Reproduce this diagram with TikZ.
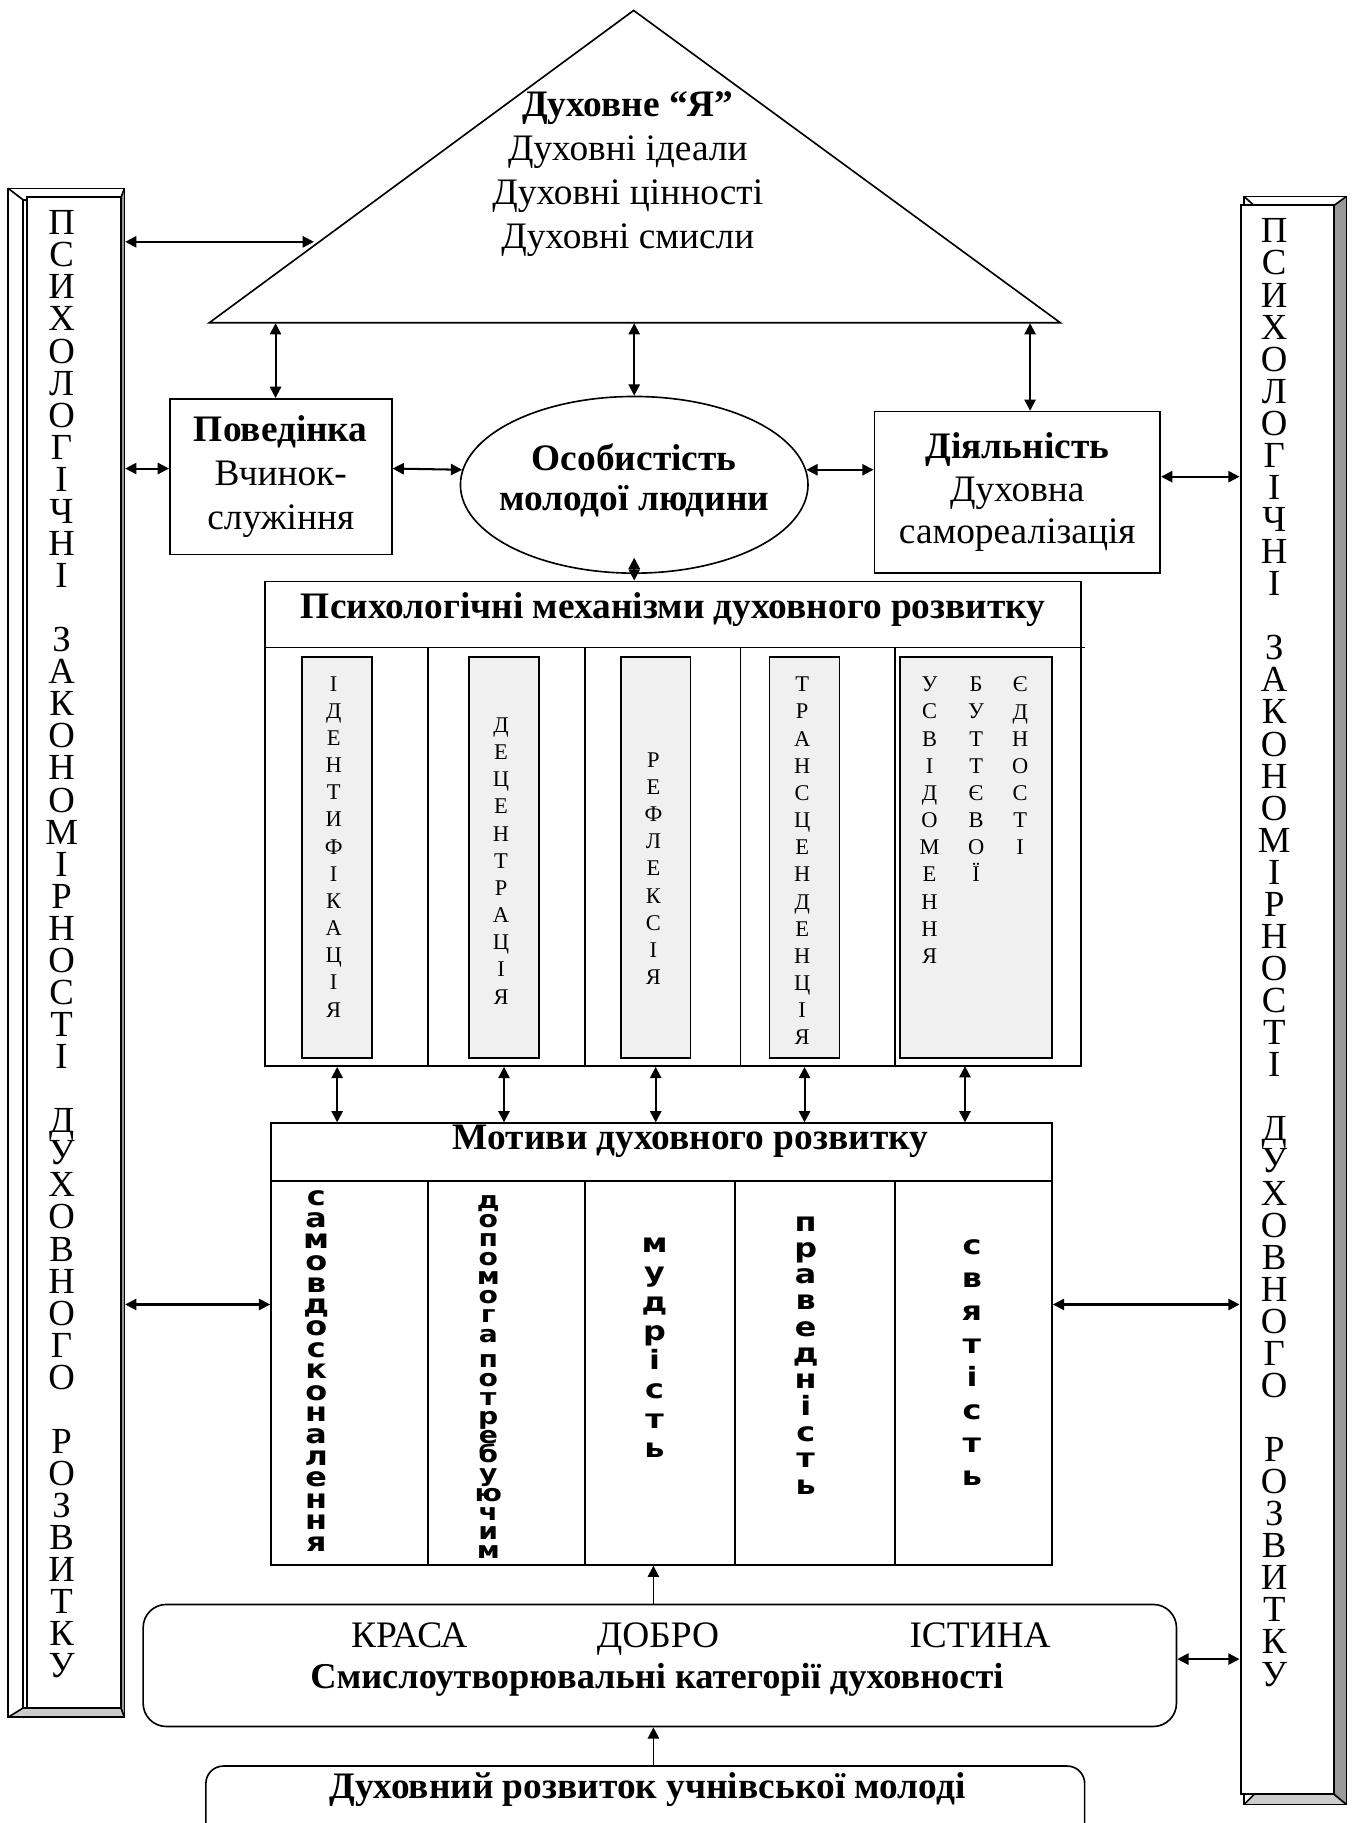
\documentclass[tikz,border=0pt]{standalone}
\usepackage{fontspec}
\setmainfont{Liberation Serif}
\newfontfamily\motfont{DejaVu Sans}[FakeStretch=1.2]
\usetikzlibrary{arrows.meta,shapes.geometric}

\newcommand{\zakon}{П\\С\\И\\Х\\О\\Л\\О\\Г\\І\\Ч\\Н\\І\\[15.7pt]З\\А\\К\\О\\Н\\О\\М\\І\\Р\\Н\\О\\С\\Т\\І\\[15.7pt]Д\\У\\Х\\О\\В\\Н\\О\\Г\\О\\[15.7pt]Р\\О\\З\\В\\И\\Т\\К\\У}

\tikzset{
  box/.style={draw, line width=0.8pt, inner sep=0pt, align=center},
  txt/.style={inner sep=0pt, align=center, font=\fontsize{18.3}{21.6}\selectfont},
  hdr/.style={inner sep=0pt, align=center, font=\bfseries\fontsize{18.3}{20}\selectfont},
  pilltr/.style={inner sep=0pt, align=center, anchor=north, font={\fontsize{18}{15.7}\selectfont\lineskiplimit=-50pt}},
  mechltr/.style={inner sep=0pt, align=center, anchor=north, font={\fontsize{11}{13.3}\selectfont\lineskiplimit=-50pt}},
  motltr/.style={inner sep=0pt, align=center, anchor=north, font={\motfont\bfseries\fontsize{13}{#1}\selectfont\lineskiplimit=-50pt}},
  grbox/.style={draw, line width=0.8pt, fill=black!6, minimum width=1.2cm, minimum height=6.9cm},
  dbl/.style={{Triangle[length=5.5pt,width=5.5pt]}-{Triangle[length=5.5pt,width=5.5pt]}, line width=1pt},
  uparr/.style={-{Triangle[length=5.5pt,width=5.5pt]}, line width=0.8pt},
}

\begin{document}
\begin{tikzpicture}[x=0.02cm, y=-0.02cm, line width=0.8pt]
\useasboundingbox (0,0) rectangle (1165,1568);
\clip (0,0) rectangle (1165,1568);

% left pillar
\fill[black!40] (107,162) -- (107,1477) -- (104,1469) -- (104,170) -- cycle;
\fill[black!20] (7,1477) -- (107,1477) -- (104,1469) -- (20,1469) -- cycle;
\draw (7,162) -- (20,172) (107,162) -- (104,170) (7,1477) -- (20,1469) (107,1477) -- (104,1469);
\draw (20,172) rectangle (104,1469);
\node[draw, minimum width=2cm, minimum height=26.3cm] (lpil) at (57,819.5) {};
\node[draw, line width=1pt, fill=white, minimum width=1.62cm, minimum height=26cm] (lpil-f) at (63.5,819) {};
\node[pilltr] (lpil-t) at (53,180.5) {\zakon};

% right pillar
\fill[black!40] (1147,177) -- (1158,169) -- (1158,1552) -- (1147,1543) -- cycle;
\fill[black!20] (1070,1552) -- (1158,1552) -- (1147,1543) -- (1079,1543) -- cycle;
\draw (1070,169) rectangle (1158,1552);
\draw (1070,169) -- (1079,177) (1158,169) -- (1147,177) (1070,1552) -- (1079,1543) (1158,1552) -- (1147,1543);
\node[draw, line width=1pt, fill=white, minimum width=1.6cm, minimum height=27.34cm] (rpil) at (1107,859.5) {};
\node[pilltr] (rpil-t) at (1096,187.5) {\zakon};

% triangle
\coordinate (tri-t) at (545,9);
\coordinate (tri-l) at (180,277.6);
\coordinate (tri-r) at (912,277.6);
\draw (tri-l) -- (tri-t) -- (tri-r) -- cycle;
\node[txt, anchor=north] (dukh) at (540,78) {\textbf{Духовне “Я”}\\Духовні ідеали\\Духовні цінності\\Духовні смисли};

% middle row
\node[box, minimum width=3.82cm, minimum height=2.68cm, font=\fontsize{18.3}{21.6}\selectfont] (povedinka) at (241.5,410) {\textbf{Поведінка}\\Вчинок-\\служіння};
\node[draw, ellipse, minimum width=5.98cm, minimum height=3.04cm, inner sep=0pt] (osobyst) at (545.5,417) {};
\node[hdr, font=\bfseries\fontsize{18.3}{19.6}\selectfont] (osobyst-t) at (545.5,413) {Особистість\\молодої людини};
\node[box, minimum width=4.92cm, minimum height=2.78cm, font=\fontsize{18.3}{20.8}\selectfont] (diyalnist) at (875,423.5) {\textbf{Діяльність}\\Духовна\\самореалізація};

% mechanisms
\node[box, minimum width=14.04cm, minimum height=8.34cm] (mekh) at (579,708.5) {};
\node[hdr] (mekh-t) at (579,524) {Психологічні механізми духовного розвитку};
\draw (228,557) -- (933,557);
\foreach \x in {368,503,637,770} \draw (\x,557) -- (\x,917);
\node[grbox] (g1) at (290,737.5) {};
\node[grbox] (g2) at (433.5,737.5) {};
\node[grbox] (g3) at (564,737.5) {};
\node[grbox] (g4) at (692,737.5) {};
\node[grbox, minimum width=2.62cm] (g5) at (839.5,737.5) {};
\node[mechltr] (g1-t) at (287,581) {І\\Д\\Е\\Н\\Т\\И\\Ф\\І\\К\\А\\Ц\\І\\Я};
\node[mechltr] (g2-t) at (431,616.6) {Д\\Е\\Ц\\Е\\Н\\Т\\Р\\А\\Ц\\І\\Я};
\node[mechltr] (g3-t) at (562,646.6) {Р\\Е\\Ф\\Л\\Е\\К\\С\\І\\Я};
\node[mechltr] (g4-t) at (690,581.6) {Т\\Р\\А\\Н\\С\\Ц\\Е\\Н\\Д\\Е\\Н\\Ц\\І\\Я};
\node[mechltr] (g5-a) at (799.5,581.6) {У\\С\\В\\І\\Д\\О\\М\\Е\\Н\\Н\\Я};
\node[mechltr] (g5-b) at (839.6,581.6) {Б\\У\\Т\\Т\\Є\\В\\О\\Ї};
\node[mechltr] (g5-c) at (877.5,581.6) {Є\\Д\\Н\\О\\С\\Т\\І};

% motives
\node[box, minimum width=13.44cm, minimum height=7.6cm] (motyvy) at (569,1156) {};
\node[hdr] (motyvy-t) at (594,982) {Мотиви духовного розвитку};
\draw (233,1016) -- (905,1016);
\foreach \x in {368,503,632,770} \draw (\x,1016) -- (\x,1346);
\node[motltr=10.58] (m1) at (272,1023.6) {с\\а\\м\\о\\в\\д\\о\\с\\к\\о\\н\\а\\л\\е\\н\\н\\я};
\node[motltr=9.35, font={\motfont\bfseries\fontsize{11.5}{9.35}\selectfont\lineskiplimit=-50pt}] (m2) at (420,1027.6) {д\\о\\п\\о\\м\\о\\г\\а\\[3pt]п\\о\\т\\р\\е\\б\\у\\ю\\ч\\и\\м};
\node[motltr=14.34] (m3) at (563,1064.1) {м\\у\\д\\р\\і\\с\\т\\ь};
\node[motltr=12.89] (m4) at (693,1045.6) {п\\р\\а\\в\\е\\д\\н\\і\\с\\т\\ь};
\node[motltr=16.16] (m5) at (836,1065.6) {с\\в\\я\\т\\і\\с\\т\\ь};

% categories
\node[box, rounded corners=0.4cm, minimum width=17.78cm, minimum height=2.1cm] (katehorii) at (567.5,1432.5) {};
\node[txt, anchor=base] (krasa) at (352,1416.6) {КРАСА};
\node[txt, anchor=base] (dobro) at (566,1416.6) {ДОБРО};
\node[txt, anchor=base] (istyna) at (843,1416.6) {ІСТИНА};
\node[hdr, font=\bfseries\fontsize{17.8}{20}\selectfont] (katehorii-t) at (565,1444.6) {Смислоутворювальні категорії духовності};

\node[box, rounded corners=0.3cm, minimum width=15.12cm, minimum height=2.02cm] (rozvytok) at (555,1569.5) {};
\node[hdr] (rozvytok-t) at (557,1539) {Духовний розвиток учнівської молоді};

% connectors
\coordinate (a-tri) at (270,208);
\draw[dbl] (lpil.east |- a-tri) -- (a-tri);
\coordinate (b1) at (237,278);
\coordinate (b2) at (545.5,278);
\coordinate (b3) at (886,278);
\draw[dbl] (b1) -- (b1 |- povedinka.north);
\draw[dbl] (b2) -- (osobyst.north);
\draw[dbl] (b3) -- (b3 |- diyalnist.north);
\coordinate (y-mid) at (0,403);
\draw[dbl] (lpil.east |- y-mid) -- (povedinka.west |- y-mid);
\draw[dbl] (povedinka.east |- y-mid) -- (osobyst.175);
\draw[dbl] (osobyst.5) -- (diyalnist.west |- osobyst.5);
\coordinate (y-dij) at (0,410);
\draw[dbl] (diyalnist.east |- y-dij) -- (rpil.west |- y-dij);
\draw[dbl] ([yshift=0.28cm]osobyst.south) -- (osobyst.south |- mekh.north);
\foreach \g in {g1,g2,g3,g4} \draw[dbl] (\g |- mekh.south) -- (\g |- motyvy.north);
\coordinate (g5-x) at (830,917);
\draw[dbl] (g5-x) -- (g5-x |- motyvy.north);
\coordinate (y-mot) at (0,1122);
\draw[dbl] (lpil.east |- y-mot) -- (motyvy.west |- y-mot);
\draw[dbl] (motyvy.east |- y-mot) -- (rpil.west |- y-mot);
\coordinate (x-ax) at (562,0);
\draw[uparr] (katehorii.north -| x-ax) -- (motyvy.south -| x-ax);
\draw[uparr] (rozvytok.north -| x-ax) -- (katehorii.south -| x-ax);
\coordinate (y-kat) at (0,1427);
\draw[dbl] (katehorii.east |- y-kat) -- (rpil.west |- y-kat);
\end{tikzpicture}
\end{document}
